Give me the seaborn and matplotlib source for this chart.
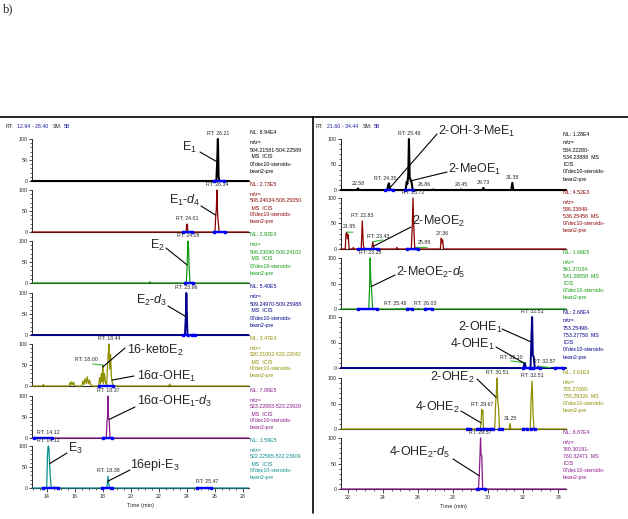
import matplotlib
matplotlib.use("Agg")
import matplotlib.pyplot as plt
import matplotlib.transforms as mtransforms
from matplotlib.lines import Line2D
from matplotlib.ticker import MultipleLocator, FixedLocator
import seaborn as sns

sns.set_style("white")
plt.rcParams["font.family"] = ["Liberation Sans", "DejaVu Sans"]
plt.rcParams["mathtext.fontset"] = "custom"
plt.rcParams["mathtext.rm"] = "Liberation Sans"
plt.rcParams["mathtext.it"] = "Liberation Sans:italic"

W, H = 628, 519

# ---------------- left column (RT 12.94 - 28.40) ----------------
e1_t = [12.94, 26.10, 26.16, 26.21, 26.26, 26.32, 28.40]
e1_i = [0, 0, 45, 100, 10, 0, 0]
e1_rt = [(26.21, 100, "RT: 26.21")]
e1_int = [(25.95, 26.65)]

e1d4_t = [12.94, 23.95, 23.98, 24.01, 24.04, 24.07, 26.00, 26.06, 26.10, 26.14, 26.18, 26.22, 26.30, 28.40]
e1d4_i = [0, 0, 18, 19, 17, 0, 0, 40, 55, 100, 50, 30, 0, 0]
e1d4_rt = [(24.01, 19, "RT: 24.01"), (26.14, 100, "RT: 26.14")]
e1d4_int = [(23.75, 24.35), (25.90, 26.75)]

e2_t = [12.94, 21.30, 21.37, 21.44, 23.96, 24.02, 24.06, 24.08, 24.12, 24.16, 24.22, 28.40]
e2_i = [0, 0, 3, 0, 0, 43, 90, 100, 80, 40, 0, 0]
e2_rt = [(24.08, 100, "RT: 24.08")]
e2_int = [(23.85, 24.45)]

e2d3_t = [12.94, 23.86, 23.92, 23.94, 23.96, 24.00, 24.04, 28.40]
e2d3_i = [0, 0, 44, 60, 100, 50, 0, 0]
e2d3_rt = [(23.96, 100, "RT: 23.96")]
e2d3_int = [(23.70, 24.10), (24.35, 24.60)]

keto_t = [12.94, 13.70, 13.76, 13.82, 15.60, 15.66, 15.72, 15.78, 15.85, 15.92, 15.98, 16.05,
          16.50, 16.58, 16.66, 16.74, 16.82, 16.90, 16.98, 17.06, 17.14, 17.30, 17.70, 17.78,
          17.84, 17.90, 17.96, 18.00, 18.05, 18.12, 18.20, 18.28, 18.34, 18.40, 18.44, 18.50,
          18.56, 18.62, 18.68, 18.76, 22.70, 22.78, 22.86, 28.40]
keto_i = [0, 0, 4, 0, 0, 8, 2, 10, 3, 9, 2, 0,
          0, 12, 3, 18, 6, 22, 5, 14, 3, 0, 0, 20,
          5, 30, 10, 50, 5, 30, 8, 0, 50, 80, 100, 40,
          75, 20, 8, 0, 0, 5, 0, 0]
keto_rt = [(18.00, 50, "RT: 18.00"), (18.44, 100, "RT: 18.44")]
keto_int = [(17.70, 18.75)]

ohe1d3_t = [12.94, 14.08, 14.12, 14.16, 18.25, 18.30, 18.34, 18.37, 18.41, 18.46, 18.52, 28.40]
ohe1d3_i = [0, 0, 1, 0, 0, 40, 48, 100, 50, 40, 0, 0]
ohe1d3_rt = [(14.12, 1, "RT: 14.12"), (18.37, 100, "RT: 18.37")]
ohe1d3_int = [(13.10, 14.40), (18.00, 18.65)]

e3_t = [12.94, 14.00, 14.06, 14.10, 14.12, 14.16, 14.22, 14.28, 14.34, 14.48, 14.54, 14.60,
        18.28, 18.33, 18.38, 18.43, 18.48, 25.40, 25.47, 25.54, 28.40]
e3_i = [0, 0, 80, 98, 100, 95, 50, 15, 0, 0, 3, 0,
        0, 12, 28, 10, 0, 0, 2, 0, 0]
e3_rt = [(14.12, 100, "RT: 14.12"), (18.38, 28, "RT: 18.38"), (25.47, 2, "RT: 25.47")]
e3_int = [(13.75, 14.80), (17.95, 18.65), (24.70, 25.75)]

left_nl = ["8.94E4", "2.73E5", "2.92E4", "5.40E5", "3.47E4", "7.88E5", "1.59E5"]
left_mz = ["504.21581-504.22589", "508.24034-508.25050", "506.23090-506.24102",
           "509.24970-509.25988", "520.21002-520.22042", "523.22883-523.23929",
           "522.22565-522.23609"]

# ---------------- right column (RT 21.60 - 34.44) ----------------
r1_t = [21.60, 22.52, 22.58, 22.64, 24.26, 24.31, 24.35, 24.40, 24.46, 25.30, 25.36, 25.40,
        25.45, 25.49, 25.53, 25.58, 25.64, 25.70, 26.80, 26.86, 26.92, 28.39, 28.45, 28.51,
        29.67, 29.73, 29.79, 31.32, 31.38, 31.44, 34.44]
r1_i = [0, 0, 3, 0, 0, 10, 13, 4, 0, 0, 16, 12,
        30, 100, 25, 20, 15, 0, 0, 1, 0, 0, 1, 0,
        0, 4, 0, 0, 14, 0, 0]
r1_rt = [(22.58, 3, "22.58"), (24.35, 13, "RT: 24.35"), (25.49, 100, "RT: 25.49"),
         (26.86, 1, "26.86"), (28.45, 1, "28.45"), (29.73, 4, "29.73"), (31.38, 14, "31.38")]
r1_int = [(24.12, 24.60), (25.28, 25.74)]

r2_t = [21.60, 21.86, 21.90, 21.95, 21.99, 22.03, 22.08, 22.28, 22.32, 22.36, 22.77, 22.83,
        22.89, 22.95, 23.37, 23.43, 23.50, 24.74, 24.80, 24.86, 25.62, 25.67, 25.72, 25.77,
        25.82, 25.84, 25.89, 25.94, 27.28, 27.33, 27.36, 27.41, 27.46, 34.44]
r2_i = [0, 0, 30, 33, 20, 28, 0, 0, 3, 0, 0, 55,
        8, 0, 0, 14, 0, 0, 3, 0, 0, 35, 100, 40,
        0, 0, 3, 0, 0, 21, 12, 18, 0, 0]
r2_rt = [(21.95, 33, "21.95"), (22.83, 55, "RT: 22.83"), (23.43, 14, "RT: 23.43"),
         (25.72, 100, "RT: 25.72"), (25.89, 3, "25.89"), (27.36, 21, "27.36")]
r2_int = [(22.60, 23.74), (25.36, 26.02)]

r3_t = [21.60, 23.20, 23.25, 23.28, 23.31, 23.35, 23.42, 25.40, 25.48, 25.56, 25.96, 26.03, 26.10, 34.44]
r3_i = [0, 0, 45, 100, 60, 44, 0, 0, 1, 0, 0, 1, 0, 0]
r3_rt = [(23.28, 100, "RT: 23.28"), (25.48, 1, "RT: 25.48"), (26.03, 1, "RT: 26.03")]
r3_int = [(22.60, 23.65), (25.36, 25.65), (26.40, 26.78)]

r4_t = [21.60, 32.02, 32.06, 32.10, 32.15, 32.42, 32.47, 32.51, 32.55, 32.60, 32.66, 32.82, 32.87, 32.92, 34.44]
r4_i = [0, 0, 8, 10, 0, 0, 60, 100, 25, 22, 0, 0, 3, 0, 0]
r4_rt = [(32.10, 10, "RT: 32.10"), (32.51, 100, "RT: 32.51"), (32.87, 3, "RT: 32.87")]
r4_int = [(32.00, 32.39), (32.58, 32.96), (33.81, 34.28)]

r5_t = [21.60, 29.56, 29.60, 29.64, 29.67, 29.70, 29.74, 30.38, 30.43, 30.47, 30.51, 30.55,
        30.59, 30.65, 31.20, 31.25, 31.30, 32.40, 32.45, 32.51, 32.56, 32.62, 34.44]
r5_i = [0, 0, 12, 38, 30, 36, 0, 0, 50, 70, 100, 55,
        45, 0, 0, 11, 0, 0, 60, 94, 30, 0, 0]
r5_rt = [(29.67, 38, "RT: 29.67"), (30.51, 100, "RT: 30.51"), (31.25, 11, "31.25"),
         (32.51, 94, "RT: 32.51")]
r5_int = [(28.78, 28.97), (29.35, 29.54), (29.73, 29.92), (30.10, 30.26),
          (30.64, 30.77), (32.00, 32.20), (32.43, 32.67)]

r6_t = [21.60, 29.45, 29.50, 29.54, 29.57, 29.60, 29.64, 29.69, 34.44]
r6_i = [0, 0, 30, 67, 100, 67, 65, 0, 0]
r6_rt = [(29.57, 100, "RT: 29.57")]
r6_int = [(29.35, 29.80)]

right_nl = ["1.28E4", "4.52E3", "1.66E5", "2.68E4", "2.61E3", "8.87E4"]
right_mz = [("534.22280-", "534.23888"), ("536.23848-", "536.25456"), ("541.27034-", "541.28658"),
            ("753.25498-", "753.27758"), ("755.27060-", "755.29326"), ("760.30191-", "760.32471")]
right_icis = [True, False, True, True, False, True]

# ---------------- styling ----------------
BLACK, RED, GREEN, NAVY = "#000000", "#8b0000", "#119911", "#00008b"
OLIVE, PURPLE, TEAL = "#8f8f00", "#8b1a8b", "#0b8c8c"
BLUE = "#0000ff"
NOISE = "#33bb33"
SMALL = 3.8

rt_dx = {"RT: 18.00": -16, "21.95": 3, "RT: 23.43": 5, "25.89": 8, "RT: 25.48": -14,
         "RT: 26.03": 7, "RT: 32.10": -14, "RT: 32.87": 6, "RT: 24.35": -4, "26.86": -9}
noise_tick = {"RT: 18.00": (-10, 1), "21.95": (6, 0), "RT: 23.43": (10, 2), "25.89": (11, 0),
              "RT: 25.48": (-13, 0), "RT: 32.10": (-14, 2), "RT: 32.87": (12, -1)}

fig = plt.figure(figsize=(W / 100, H / 100), dpi=100)
pix = mtransforms.Affine2D().scale(1 / W, -1 / H).translate(0, 1) + fig.transFigure


def draw_panel(x0, x1, base, h100, ytop, xlim, t, i, color, lw, rts, ints, bottom):
    h = h100 * ytop / 100
    ax = fig.add_axes([x0 / W, 1 - base / H, (x1 - x0) / W, h / H])
    sns.lineplot(x=t, y=i, ax=ax, color=color, linewidth=lw, sort=False,
                 estimator=None, errorbar=None, zorder=3)
    ax.lines[-1].set_clip_on(False)
    for a, b in ints:
        ax.plot([a, b], [0, 0], color=BLUE, lw=1.7, marker="s", ms=1.8,
                solid_capstyle="round", clip_on=False, zorder=4)
    for rt, hh, lbl in rts:
        dx = rt_dx.get(lbl, 0)
        ax.annotate(lbl, xy=(rt, hh), xytext=(dx * 0.72, 2.0), textcoords="offset points",
                    ha="center", va="bottom", fontsize=SMALL, annotation_clip=False)
        if lbl in noise_tick:
            gx, gy = noise_tick[lbl]
            ax.annotate("", xy=(rt, hh), xytext=(gx * 0.72, gy * 0.72), textcoords="offset points",
                        arrowprops=dict(arrowstyle="-", color=NOISE, lw=0.8, shrinkA=0, shrinkB=0),
                        annotation_clip=False)
    ax.set_xlim(*xlim)
    ax.set_ylim(0, ytop)
    ax.set_yticks([0, 50, 100])
    ax.set_yticklabels(["0", "50", "100"])
    ax.yaxis.set_minor_locator(FixedLocator(range(0, 101, 10)))
    ax.tick_params(axis="y", which="major", direction="out", length=2.4, width=0.6,
                   labelsize=SMALL, pad=0.4, left=True)
    ax.tick_params(axis="y", which="minor", direction="out", length=1.4, width=0.5, left=True)
    for s in ("top", "right"):
        ax.spines[s].set_visible(False)
    ax.spines["left"].set_linewidth(0.7)
    ax.spines["left"].set_bounds(0, 100)
    ax.spines["bottom"].set_linewidth(0.8)
    ax.patch.set_alpha(0)
    if bottom:
        ax.xaxis.set_major_locator(MultipleLocator(2))
        ax.xaxis.set_minor_locator(MultipleLocator(0.5))
        ax.tick_params(axis="x", which="major", direction="out", length=2.6, width=0.6,
                       labelsize=SMALL, pad=1.5, bottom=True)
        ax.tick_params(axis="x", which="minor", direction="out", length=1.5, width=0.5, bottom=True)
        ax.set_xlabel("Time (min)", fontsize=SMALL + 0.3, labelpad=3)
    else:
        ax.set_xticks([])
    ax.set_ylabel("")
    return ax


def tag(ax, txt, xy, text_px, start_px, ha):
    fig.text(text_px[0], text_px[1], txt, transform=pix, ha=ha, va="center", fontsize=9)
    ax.annotate("", xy=xy, xycoords="data", xytext=start_px, textcoords=pix,
                arrowprops=dict(arrowstyle="-", lw=0.8, color="black", shrinkA=0, shrinkB=0),
                annotation_clip=False)


# left column
left = [
    (e1_t, e1_i, BLACK, 1.5, e1_rt, e1_int),
    (e1d4_t, e1d4_i, RED, 0.9, e1d4_rt, e1d4_int),
    (e2_t, e2_i, GREEN, 0.9, e2_rt, e2_int),
    (e2d3_t, e2d3_i, NAVY, 1.4, e2d3_rt, e2d3_int),
    (keto_t, keto_i, OLIVE, 0.9, keto_rt, keto_int),
    (ohe1d3_t, ohe1d3_i, PURPLE, 0.9, ohe1d3_rt, ohe1d3_int),
    (e3_t, e3_i, TEAL, 0.9, e3_rt, e3_int),
]
left_base = [181, 232, 283, 335, 386, 438, 488]
lax = []
for k, (t, i, c, lw, rts, ints) in enumerate(left):
    ax = draw_panel(31.8, 248.6, left_base[k], 42, 121, (12.94, 28.40), t, i, c, lw, rts, ints,
                    k == len(left) - 1)
    lax.append(ax)
    b = left_base[k]
    fig.text(250, b - 48, "NL: " + left_nl[k], transform=pix, fontsize=SMALL, color=c, va="center")
    lines = ["m/z=", left_mz[k], " MS  ICIS", "07dec10-steroids-", "bean2-pre"]
    for j, s in enumerate(lines):
        fig.text(250, b - 38 + 7 * j, s, transform=pix, fontsize=SMALL, color=c, va="center")

# right column
right = [
    (r1_t, r1_i, BLACK, 1.5, r1_rt, r1_int),
    (r2_t, r2_i, RED, 0.9, r2_rt, r2_int),
    (r3_t, r3_i, GREEN, 0.9, r3_rt, r3_int),
    (r4_t, r4_i, NAVY, 1.4, r4_rt, r4_int),
    (r5_t, r5_i, OLIVE, 0.9, r5_rt, r5_int),
    (r6_t, r6_i, PURPLE, 0.9, r6_rt, r6_int),
]
right_base = [190, 249, 309, 368, 429, 489]
rax = []
for k, (t, i, c, lw, rts, ints) in enumerate(right):
    ax = draw_panel(340.7, 566.0, right_base[k], 51, 116, (21.60, 34.44), t, i, c, lw, rts, ints,
                    k == len(right) - 1)
    rax.append(ax)
    b = right_base[k]
    fig.text(563, b - 56, "NL: " + right_nl[k], transform=pix, fontsize=SMALL, color=c, va="center")
    lines = ["m/z=", right_mz[k][0], right_mz[k][1] + "  MS"]
    if right_icis[k]:
        lines.append("ICIS")
    lines += ["07dec10-steroids-", "bean2-pre"]
    for j, s in enumerate(lines):
        fig.text(563, b - 47 + 7.2 * j, s, transform=pix, fontsize=SMALL, color=c, va="center")

# compound labels with leader lines
tag(lax[0], "E$_1$", (26.18, 45), (197, 147), (200, 152), "right")
tag(lax[1], "E$_1$-$d_4$", (26.06, 40), (200, 200), (201, 206), "right")
tag(lax[2], "E$_2$", (24.02, 43), (165, 245), (166, 248), "right")
tag(lax[3], "E$_2$-$d_3$", (23.92, 44), (167, 300), (168, 306), "right")
tag(lax[4], "16-ketoE$_2$", (17.99, 45), (127, 350), (125, 348), "left")
tag(lax[4], "16α-OHE$_1$", (18.65, 14), (137, 376), (134, 376), "left")
tag(lax[5], "16α-OHE$_1$-$d_3$", (18.44, 44), (137, 401), (135, 407), "left")
tag(lax[6], "E$_3$", (14.21, 58), (68, 448), (67, 453), "left")
tag(lax[6], "16epi-E$_3$", (18.35, 16), (130, 465), (130, 470), "left")
tag(rax[0], "2-OH-3-MeE$_1$", (24.45, 6), (438, 131), (437, 134), "left")
tag(rax[0], "2-MeOE$_1$", (25.6, 18), (448, 169), (447, 172), "left")
tag(rax[1], "2-MeOE$_2$", (23.45, 5), (412, 221), (411, 227), "left")
tag(rax[2], "2-MeOE$_2$-$d_5$", (23.34, 44), (396, 272), (395, 275), "left")
tag(rax[3], "2-OHE$_1$", (32.46, 51), (503, 327), (502, 329), "right")
tag(rax[3], "4-OHE$_1$", (32.08, 9), (495, 344), (496, 347), "right")
tag(rax[4], "2-OHE$_2$", (30.46, 62), (475, 377), (477, 379), "right")
tag(rax[4], "4-OHE$_2$", (29.6, 12), (460, 407), (461, 411), "right")
tag(rax[5], "4-OHE$_2$-$d_5$", (29.495, 26), (450, 452), (453, 459), "right")

# headers
HDR = "#1a1aa6"
fig.text(6, 126, "RT:", transform=pix, fontsize=SMALL, va="center")
fig.text(17, 126, "12.94 - 28.40", transform=pix, fontsize=SMALL, va="center", color=HDR)
fig.text(53, 126, "SM:", transform=pix, fontsize=SMALL, va="center")
fig.text(64, 126, "5B", transform=pix, fontsize=SMALL, va="center", color=HDR)
fig.text(316, 126, "RT:", transform=pix, fontsize=SMALL, va="center")
fig.text(327, 126, "21.60 - 34.44", transform=pix, fontsize=SMALL, va="center", color=HDR)
fig.text(363, 126, "SM:", transform=pix, fontsize=SMALL, va="center")
fig.text(374, 126, "5B", transform=pix, fontsize=SMALL, va="center", color=HDR)

fig.text(3, 9, "b)", transform=pix, fontsize=9, va="center", family="Liberation Serif")

# frame lines
fig.add_artist(Line2D([0, W], [117, 117], transform=pix, color="black", lw=1.2))
fig.add_artist(Line2D([313, 313], [117, 513], transform=pix, color="black", lw=1.2))

fig.savefig("out.png", dpi=100)
